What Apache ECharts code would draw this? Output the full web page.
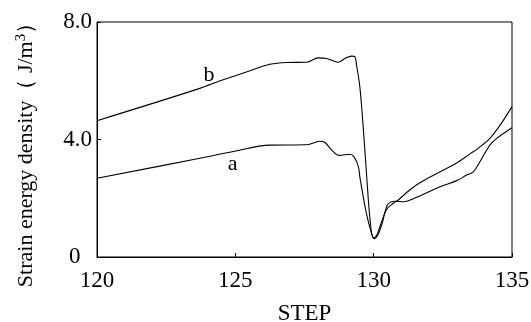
<!DOCTYPE html>
<html>
<head>
<meta charset="utf-8">
<script src="https://cdn.jsdelivr.net/npm/echarts@6/dist/echarts.min.js"></script>
<style>
  html, body { margin: 0; padding: 0; background: #fff; }
  #chart { width: 531px; height: 322px; }
</style>
</head>
<body>
<div id="chart"></div>
<script>
// curve b (upper one on the left side)
const stepsB = [120, 123.72, 124.45, 125.0, 125.53, 126.25, 126.86, 127.58, 128.0, 128.3, 128.72, 128.96, 129.2, 129.32, 129.38, 129.5, 129.62, 129.74, 129.87, 129.99, 130.1, 130.25, 130.47, 130.7, 130.9, 131.3, 131.67, 132.4, 133.0, 133.48, 133.75, 134.2, 134.57, 135];
const valuesB = [4.64, 5.74, 6.0, 6.17, 6.34, 6.56, 6.62, 6.63, 6.78, 6.76, 6.63, 6.76, 6.84, 6.82, 6.54, 5.8, 4.44, 2.86, 1.26, 0.65, 0.72, 1.1, 1.62, 1.82, 1.95, 2.28, 2.53, 2.9, 3.2, 3.51, 3.68, 4.04, 4.49, 5.12];

// curve a (lower one on the left side)
const stepsA = [120, 123.72, 124.93, 126.25, 127.58, 128.06, 128.24, 128.48, 128.76, 129.14, 129.29, 129.45, 129.5, 129.69, 129.87, 130.02, 130.15, 130.29, 130.47, 130.59, 130.8, 131.07, 131.37, 131.67, 132.4, 133.0, 133.36, 133.6, 133.84, 134.2, 134.45, 135];
const valuesA = [2.68, 3.36, 3.59, 3.81, 3.82, 3.94, 3.9, 3.64, 3.46, 3.5, 3.41, 3.07, 2.73, 1.71, 0.98, 0.62, 0.75, 1.09, 1.72, 1.86, 1.9, 1.88, 1.96, 2.08, 2.39, 2.6, 2.79, 2.9, 3.24, 3.81, 4.04, 4.4];

// where the curve names sit, in data units
const labelB = [124.05, 6.2];
const labelA = [124.9, 3.17];

const xTicks = [120, 125, 130, 135];
const yTicks = [0, 4.0, 8.0];

const font = "'Liberation Serif', 'Times New Roman', serif";

const zip = (xs, ys) => xs.map((x, i) => [x, ys[i]]);

const curveLabel = (coord, text) => ({
  coord,
  symbol: "circle",
  symbolSize: 1,
  itemStyle: { color: "transparent" },
  label: {
    show: true,
    position: "inside",
    formatter: text,
    color: "#000",
    fontFamily: font,
    fontSize: 22
  }
});

const chart = echarts.init(document.getElementById("chart"), null, { renderer: "canvas" });

chart.setOption({
  animation: false,
  backgroundColor: "#fff",
  grid: {
    left: 97,
    right: 19,
    top: 22,
    bottom: 65,
    containLabel: false,
    outerBoundsMode: "none",
    show: true,
    borderColor: "#000",
    borderWidth: 1
  },
  xAxis: {
    type: "value",
    min: xTicks[0],
    max: xTicks[xTicks.length - 1],
    interval: 5,
    name: "STEP",
    nameLocation: "middle",
    nameGap: 45,
    nameMoveOverlap: false,
    nameTextStyle: { color: "#000", fontFamily: font, fontSize: 23 },
    axisLine: { show: true, lineStyle: { color: "#000", width: 1 } },
    axisTick: { show: true, inside: true, length: 4, lineStyle: { color: "#000" } },
    axisLabel: { color: "#000", fontFamily: font, fontSize: 23, margin: 12 },
    splitLine: { show: false }
  },
  yAxis: {
    type: "value",
    min: yTicks[0],
    max: yTicks[yTicks.length - 1],
    interval: 4,
    name: "{t|Strain energy density（ J/m}{s|3}{t|）}",
    nameLocation: "middle",
    nameGap: 59,
    nameMoveOverlap: false,
    nameTextStyle: {
      color: "#000",
      fontFamily: font,
      fontSize: 22,
      padding: [0, 20, 0, 0],
      rich: {
        t: { fontFamily: font, fontSize: 22, color: "#000", lineHeight: 24 },
        s: { fontFamily: font, fontSize: 15, color: "#000", verticalAlign: "top", lineHeight: 14 }
      }
    },
    axisLine: { show: true, lineStyle: { color: "#000", width: 1 } },
    axisTick: { show: true, inside: true, length: 4, lineStyle: { color: "#000" } },
    axisLabel: {
      color: "#000",
      fontFamily: font,
      fontSize: 23,
      margin: 5,
      formatter: (v) => (v === 0 ? "0\u00a0\u00a0" : v.toFixed(1))
    },
    splitLine: { show: false }
  },
  series: [
    {
      name: "b",
      type: "line",
      data: zip(stepsB, valuesB),
      showSymbol: false,
      smooth: 0.35,
      lineStyle: { color: "#000", width: 1.1 },
      markPoint: { silent: true, data: [curveLabel(labelB, "b")] }
    },
    {
      name: "a",
      type: "line",
      data: zip(stepsA, valuesA),
      showSymbol: false,
      smooth: 0.35,
      lineStyle: { color: "#000", width: 1.1 },
      markPoint: { silent: true, data: [curveLabel(labelA, "a")] }
    }
  ]
});
</script>
</body>
</html>
